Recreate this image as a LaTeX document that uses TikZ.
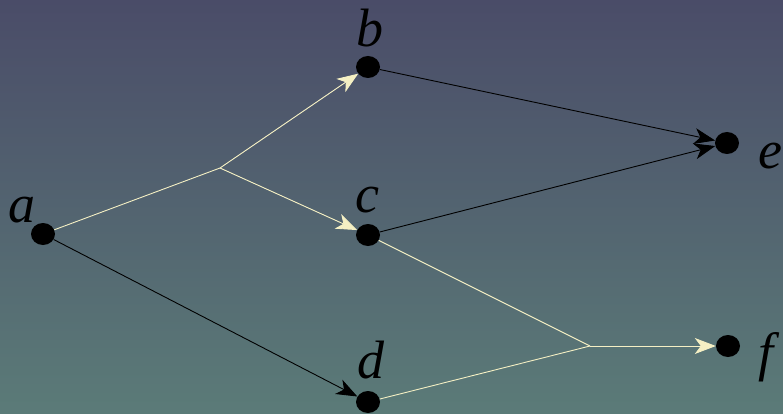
\documentclass[tikz,border=0pt]{standalone}
\usepackage{fontspec}
\setmainfont{Liberation Serif}
\usetikzlibrary{shapes.geometric,arrows.meta}
\definecolor{bgtop}{HTML}{4A4C68}
\definecolor{bgbot}{HTML}{5B7B78}
\definecolor{cream}{HTML}{F5F0C4}
\begin{document}
\begin{tikzpicture}[x=1pt,y=-1pt,
  dot/.style={ellipse,fill=black,minimum width=24pt,minimum height=22pt,inner sep=0pt},
  lbl/.style={inner sep=0pt,font=\fontsize{54}{60}\selectfont\itshape},
  tip/.style={-{Stealth[length=21pt,width=16pt,inset=6pt]}},
  lite/.style={draw=cream,line width=0.9pt},
  dark/.style={draw=black,line width=0.9pt}]
\shade[top color=bgtop,bottom color=bgbot] (0,0) rectangle (783,414);
\useasboundingbox (0,0) rectangle (783,414);
\node[dot] (a) at (43,234) {};
\node[dot] (b) at (368,67) {};
\node[dot] (c) at (368,235) {};
\node[dot] (d) at (368,402) {};
\node[dot] (e) at (727,143) {};
\node[dot] (f) at (728,346) {};
\node[lbl] (la) at (22,210) {a};
\node[lbl] (lb) at (370,28) {b};
\node[lbl] (lc) at (367,200) {c};
\node[lbl] (ld) at (371,360) {d};
\node[lbl] (le) at (770,156) {e};
\node[lbl] (lf) at (766,357) {f};
\coordinate (p) at (220,168);
\coordinate (q) at (590,346);
\draw[lite] (a) -- (p);
\draw[lite,tip,fill=cream] (p) -- (b);
\draw[lite,tip,fill=cream] (p) -- (c);
\draw[lite] (c) -- (q);
\draw[lite] (d) -- (q);
\draw[lite,tip,fill=cream] (q) -- (f);
\draw[dark,tip] (a) -- (d);
\draw[dark,tip] (b) -- (e);
\draw[dark,tip] (c) -- (e);
\end{tikzpicture}
\end{document}
